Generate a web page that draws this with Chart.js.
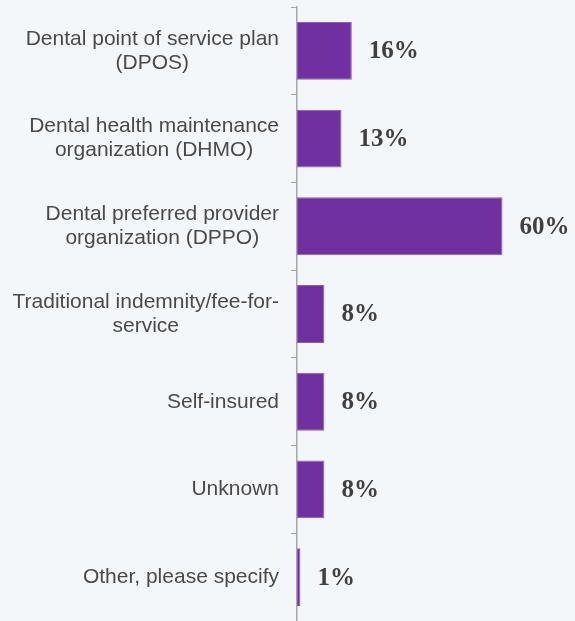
<!DOCTYPE html>
<html>
<head>
<meta charset="utf-8">
<script src="https://cdn.jsdelivr.net/npm/chart.js@4"></script>
<style>
  html, body { margin: 0; padding: 0; background: #f3f7fa; }
  #wrap { width: 575px; height: 621px; position: relative; }
</style>
</head>
<body>
<div id="wrap"><canvas id="planChart"></canvas></div>
<script>
var planLabels = [
    ['Dental point of service plan', '(DPOS)'],
    ['Dental health maintenance', 'organization (DHMO)'],
    ['Dental preferred provider', 'organization (DPPO)'],
    ['Traditional indemnity/fee-for-', 'service'],
    ['Self-insured'],
    ['Unknown'],
    ['Other, please specify']
];
var planShare = [16, 13, 60, 8, 8, 8, 1];

// category names: right-aligned block, lines centered inside the block
var categoryText = {
    id: 'categoryText',
    afterDraw: function(chart) {
        var ctx = chart.ctx;
        var yScale = chart.scales.y;
        var right = yScale.right - 18;
        ctx.save();
        ctx.font = '21px "Liberation Sans", Arial, sans-serif';
        ctx.fillStyle = '#4a4a4a';
        ctx.textBaseline = 'middle';
        ctx.textAlign = 'center';
        planLabels.forEach(function(lines, i) {
            var widest = 0;
            lines.forEach(function(l) { widest = Math.max(widest, ctx.measureText(l).width); });
            var cx = right - widest / 2;
            var cy = yScale.getPixelForValue(i);
            var lh = 24;
            var top = cy - (lines.length - 1) * lh / 2;
            lines.forEach(function(l, j) {
                ctx.fillText(l, cx, top + j * lh);
            });
        });
        ctx.restore();
    }
};

// percentage labels after each bar
var valueText = {
    id: 'valueText',
    afterDatasetsDraw: function(chart) {
        var ctx = chart.ctx;
        var meta = chart.getDatasetMeta(0);
        ctx.save();
        ctx.font = 'bold 25px "Liberation Serif", "Times New Roman", serif';
        ctx.fillStyle = '#404040';
        ctx.textBaseline = 'middle';
        ctx.textAlign = 'left';
        meta.data.forEach(function(bar, i) {
            ctx.fillText(planShare[i] + '%', bar.x + 17, bar.y + 1);
        });
        ctx.restore();
    }
};

var ctxB = document.getElementById('planChart').getContext('2d');
var planChart = new Chart(ctxB, {
    type: 'bar',
    data: {
        labels: planLabels.map(function(l) { return l.join(' '); }),
        datasets: [{
            data: planShare,
            backgroundColor: '#7030a0',
            borderColor: '#8d5bbd',
            borderWidth: 1,
            borderSkipped: false,
            barPercentage: 0.66,
            categoryPercentage: 1
        }]
    },
    options: {
        indexAxis: 'y',
        responsive: true,
        maintainAspectRatio: false,
        animation: false,
        layout: { padding: { top: 7, right: 4, bottom: 0, left: 0 } },
        plugins: {
            legend: { display: false },
            tooltip: { enabled: false }
        },
        scales: {
            x: {
                display: false,
                min: 0,
                max: 80
            },
            y: {
                afterFit: function(scale) { scale.width = 297; },
                ticks: { display: false },
                grid: {
                    offset: true,
                    drawOnChartArea: false,
                    drawTicks: true,
                    tickLength: 6,
                    color: '#a6a6a6'
                },
                border: { display: true, color: '#a6a6a6', width: 1.5 }
            }
        }
    },
    plugins: [categoryText, valueText]
});
</script>
</body>
</html>
